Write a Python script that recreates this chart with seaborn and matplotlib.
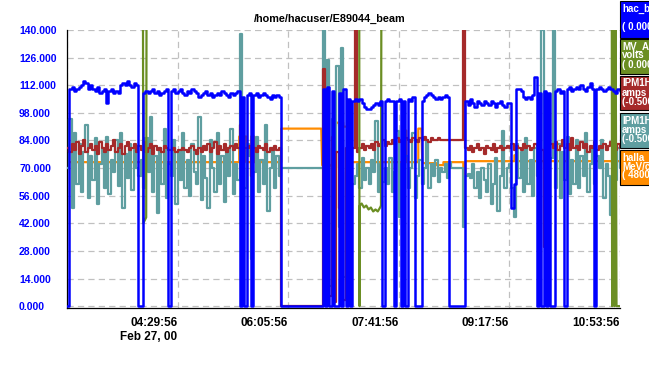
import numpy as np
import pandas as pd
import seaborn as sns
import matplotlib.pyplot as plt
from matplotlib.patches import Rectangle

# time axis: minutes after 02:53:56 on Feb 27, 00
step = 2
tick_min = [0, 96, 192, 288, 384, 480]
tick_lab = ["", "04:29:56\nFeb 27, 00", "06:05:56", "07:41:56", "09:17:56", "10:53:56"]
y_ticks = [0, 14, 28, 42, 56, 70, 84, 98, 112, 126, 140]

# beam current, sampled every 2 min
bcm = [0, 110, 111, 109, 110, 111, 112, 114, 113, 110,
       112, 110, 109, 111, 108, 109, 110, 103, 109, 110,
       108, 109, 108, 112, 113, 112, 114, 112, 111, 113,
       112, 0, 0, 108, 109, 108, 109, 110, 108, 109,
       107, 108, 109, 110, 0, 109, 110, 108, 109, 110,
       108, 107, 109, 108, 110, 109, 108, 106, 107, 108,
       109, 107, 108, 106, 107, 108, 107, 109, 108, 107,
       106, 108, 107, 108, 109, 0, 106, 0, 107, 108,
       0, 107, 108, 106, 107, 108, 107, 106, 105, 107,
       106, 107, 106, 0, 0, 0, 0, 0, 0, 0,
       0, 0, 0, 0, 0, 0, 0, 0, 0, 0,
       0, 110, 0, 111, 0, 109, 0, 0, 108, 0,
       110, 0, 105, 0, 104, 105, 104, 105, 103, 101,
       100, 100, 101, 102, 103, 102, 104, 0, 104, 105,
       104, 104, 0, 104, 105, 0, 104, 0, 105, 104,
       106, 0, 0, 0, 104, 106, 107, 108, 107, 106,
       105, 106, 105, 106, 107, 106, 0, 0, 0, 0,
       0, 0, 0, 104, 102, 105, 103, 101, 104, 103,
       102, 104, 103, 102, 104, 103, 101, 103, 104, 102,
       101, 103, 103, 50, 62, 110, 110, 109, 106, 105,
       106, 105, 107, 116, 0, 108, 0, 109, 0, 108,
       0, 0, 109, 110, 108, 109, 0, 110, 111, 109,
       110, 111, 110, 112, 110, 109, 111, 113, 110, 0,
       110, 111, 110, 109, 110, 111, 110, 109, 108, 110,
       109]

# IPM teal trace
ipm_b = [70, 95, 50, 88, 62, 82, 58, 78, 92, 55,
         76, 64, 85, 52, 72, 80, 60, 86, 57, 74,
         68, 84, 61, 88, 50, 77, 65, 82, 59, 79,
         70, 66, 74, 60, 85, 68, 96, 58, 76, 47,
         80, 62, 90, 55, 72, 66, 84, 52, 78, 64,
         88, 60, 74, 56, 82, 68, 62, 96, 54, 76,
         65, 50, 84, 70, 58, 88, 62, 76, 53, 80,
         66, 90, 57, 72, 64, 138, 70, 60, 82, 76,
         24, 68, 86, 58, 74, 62, 92, 48, 70, 80,
         60, 76, 66, 70, 70, 70, 70, 70, 70, 70,
         70, 70, 70, 70, 70, 70, 70, 70, 70, 70,
         70, 140, 20, 125, 10, 95, 70, 122, 40, 131,
         15, 68, 30, 65, 62, 66, 72, 60, 75, 64,
         70, 62, 74, 68, 94, 58, 72, 63, 70, 62,
         75, 58, 68, 89, 45, 72, 64, 76, 60, 70,
         88, 55, 66, 74, 62, 70, 84, 60, 72, 66,
         74, 63, 70, 68, 72, 65, 73, 70, 70, 70,
         70, 70, 40, 66, 67, 65, 72, 60, 68, 55,
         70, 64, 58, 72, 52, 62, 75, 48, 66, 89,
         60, 70, 72, 60, 45, 82, 65, 78, 58, 85,
         62, 74, 56, 80, 66, 70, 140, 72, 5, 68,
         75, 140, 60, 82, 55, 78, 64, 86, 57, 74,
         62, 84, 60, 76, 66, 88, 58, 72, 80, 62,
         76, 70, 84, 55, 72, 66, 46, 78, 64, 80,
         70]

# IPM brown trace
ipm_a = [80, 78, 82, 79, 83, 77, 81, 84, 78, 80,
         82, 79, 81, 77, 83, 80, 78, 82, 79, 81,
         84, 78, 80, 82, 77, 81, 83, 79, 80, 82,
         78, 81, 79, 83, 78, 80, 82, 77, 81, 79,
         80, 78, 81, 80, 79, 79, 80, 78, 79, 79,
         80, 79, 78, 80, 81, 79, 77, 80, 78, 81,
         79, 82, 78, 80, 83, 77, 81, 79, 82, 78,
         80, 81, 79, 82, 80, 92, 78, 80, 80, 81,
         66, 80, 78, 81, 80, 79, 82, 78, 80, 79,
         81, 79, 80, 0, 0, 0, 0, 0, 0, 0,
         0, 0, 0, 0, 0, 0, 0, 0, 0, 0,
         0, 120, 30, 80, 5, 86, 2, 78, 50, 84,
         3, 80, 60, 76, 80, 140, 78, 80, 82, 79,
         81, 80, 82, 79, 83, 81, 82, 84, 81, 83,
         82, 84, 82, 85, 83, 84, 82, 85, 84, 83,
         85, 84, 83, 85, 84, 86, 84, 83, 85, 84,
         84, 85, 84, 84, 84, 84, 84, 84, 84, 84,
         84, 84, 140, 80, 79, 81, 78, 80, 82, 79,
         80, 77, 81, 80, 79, 82, 78, 80, 81, 79,
         80, 81, 80, 82, 79, 81, 80, 79, 82, 80,
         81, 79, 80, 82, 81, 80, 79, 30, 81, 80,
         82, 80, 83, 79, 81, 84, 80, 82, 79, 85,
         80, 81, 79, 83, 80, 82, 78, 81, 80, 83,
         79, 81, 80, 82, 79, 81, 83, 80, 79, 82,
         80]

# hall A momentum (breakpoints)
p_t = [0, 149.6, 149.6, 155.7, 155.7, 160, 160, 162.6, 162.6, 186.1, 186.1, 220.9,
       221.7, 226.1, 231.3, 233.9, 240, 240, 244.3, 244.3, 247, 291.3, 291.3, 294.8,
       294.8, 305.2, 305.2, 307.8, 308.7, 320.9, 320.9, 327, 327, 344.3, 344.3, 346.1,
       346.1, 388.7, 388.7, 391.3, 391.3, 415.7, 415.7, 420, 420, 480]
p_v = [73, 73, 86, 86, 73, 73, 86, 86, 73, 73, 90, 90,
       71.5, 70, 72.5, 93, 93, 91, 91, 82.6, 73, 73, 89, 89,
       73, 73, 90, 90, 72.5, 72.5, 71.5, 71.5, 73, 73, 66, 66,
       73.5, 73.5, 76.5, 76.5, 73.5, 73.5, 75, 75, 73.5, 73.5]

# MV volts (mostly above range)
mv_t = [0, 66.0, 66.3, 68.8, 69.1, 253.9, 254.1, 254.4, 256, 258, 260, 262, 264,
        266, 268, 270, 272, 272.8, 273.1, 473.3, 473.6, 474.6, 475.6, 476.6, 477.4, 480]
mv_v = [150, 150, 42, 45, 150, 150, 0, 51, 52, 50, 51, 49, 50,
        48, 49, 48, 50, 51, 150, 150, 0, 150, 0, 150, 0, 0]

leg_names = ["hac_bcm_average", "MV_Al_target", "IPM1H04A.XPOS", "IPM1H04A.YPOS", "halla_p"]
leg_units = ["", "volts", "amps", "amps", "MeV/c"]
leg_range = ["( 0.000, 140.000)", "( 0.000, 140.000)", "(-0.500, 0.500)",
             "(-0.500, 0.500)", "( 4800.000, 4900.000)"]
colors = ["#0000ff", "#6b8e23", "#a52a2a", "#5f9ea0", "#ff8c00"]

sns.set_style("white")
plt.rcParams["font.family"] = ["Liberation Sans", "DejaVu Sans"]
plt.rcParams["font.weight"] = "bold"
plt.rcParams["lines.scale_dashes"] = False

W, H = 649, 375
fig = plt.figure(figsize=(W / 100, H / 100), dpi=100)
ax = fig.add_axes([67 / W, (H - 307.5) / H, 552.5 / W, 277.5 / H])

grid_t = np.arange(len(bcm)) * step
lw = 1.6
sns.lineplot(x=p_t, y=p_v, ax=ax, color=colors[4], lw=lw, estimator=None, sort=False, zorder=2)
sns.lineplot(x=grid_t, y=ipm_b, ax=ax, color=colors[3], lw=lw, estimator=None, sort=False,
             drawstyle="steps-post", zorder=3)
sns.lineplot(x=grid_t, y=ipm_a, ax=ax, color=colors[2], lw=lw, estimator=None, sort=False,
             drawstyle="steps-post", zorder=4)
sns.lineplot(x=mv_t, y=mv_v, ax=ax, color=colors[1], lw=lw, estimator=None, sort=False, zorder=5)
sns.lineplot(x=grid_t, y=bcm, ax=ax, color=colors[0], lw=lw + 0.2, estimator=None, sort=False,
             drawstyle="steps-post", zorder=6)

ax.set_xlim(0, 480)
ax.set_ylim(-0.7, 140)
ax.set_xlabel("")
ax.set_ylabel("")
ax.set_xticks(tick_min)
ax.set_xticklabels(tick_lab)
ax.set_yticks(y_ticks)
ax.set_yticklabels([f"{v:.3f}" for v in y_ticks])
ax.grid(True, color="#c0c0c0", linestyle=(0, (4.5, 3)), lw=0.9)
ax.set_axisbelow(True)
for s in ["top", "right"]:
    ax.spines[s].set_visible(False)
for s in ["left", "bottom"]:
    ax.spines[s].set_color("black")
    ax.spines[s].set_linewidth(0.9)

ax.tick_params(axis="y", length=4.3, width=0.9, color="black", pad=30.2,
               labelsize=7.5, labelcolor="#0000ff")
ax.tick_params(axis="x", length=3.6, width=0.9, color="black", pad=3.5,
               labelsize=8.5, labelcolor="black")
for t in ax.get_yticklabels():
    t.set_ha("left")
    t.set_fontweight("bold")
for t in ax.get_xticklabels():
    t.set_ha("right")
    t.set_fontweight("bold")

fig.text(330 / W, 1 - 19 / H, "/home/hacuser/E89044_beam", ha="center", va="center",
         fontsize=7.8, fontweight="bold", color="black")

# legend boxes at the right edge (cut by the figure border, as in the source)
tops = [1, 39, 76, 113, 150]
bots = [38, 74, 110, 148, 185]
for i in range(5):
    rect = Rectangle((620 / W, 1 - bots[i] / H), 60 / W, (bots[i] - tops[i]) / H,
                     transform=fig.transFigure, facecolor=colors[i], edgecolor="black",
                     lw=0.8, clip_on=False)
    fig.patches.append(rect)
    lines = [leg_names[i], leg_units[i], leg_range[i]]
    for k, txt in enumerate(lines):
        fig.text(622 / W, 1 - (tops[i] + 2.5 + 9 * k) / H, txt, ha="left", va="top",
                 fontsize=7, fontweight="bold", color="white")

fig.savefig("out.png", dpi=100, facecolor="white")
